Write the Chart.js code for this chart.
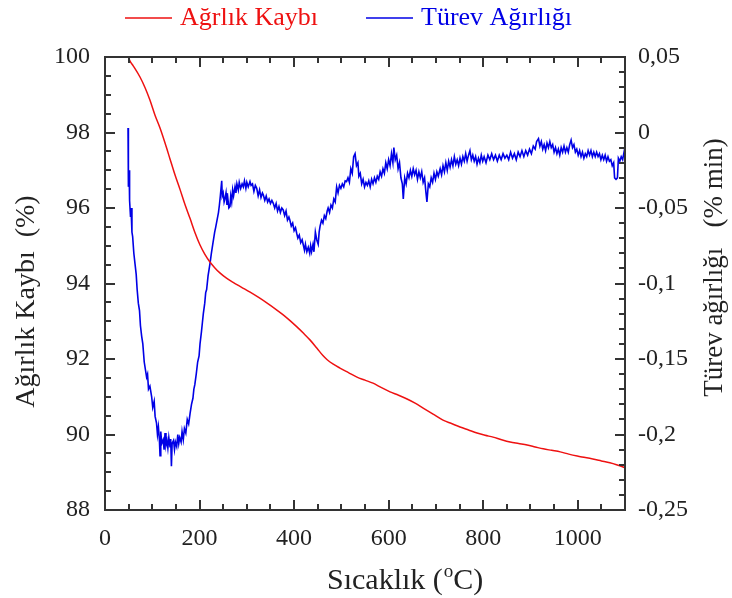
<!DOCTYPE html>
<html>
<head>
<meta charset="utf-8">
<script src="https://cdn.jsdelivr.net/npm/chart.js@4"></script>
<style>
  body { margin: 0; background: #fff; }
  #wrap { width: 732px; height: 598px; }
</style>
</head>
<body>
<div id="wrap"><canvas id="tgaChart" width="732" height="598"></canvas></div>
<script>
// Etiketler
const seriAdlari = ['Ağrlık Kaybı', 'Türev Ağırlığı'];
const xBaslik = ['Sıcaklık (', 'o', 'C)'];
const yBaslik = 'Ağırlık Kaybı  (%)';
const y1Baslik = 'Türev ağırlığı   (% min)';

// Eksen aralıkları / tick etiketleri
const xAralik = [0, 1100];
const xTickler = [0, 200, 400, 600, 800, 1000];
const yAralik = [88, 100];
const y1Aralik = [-0.25, 0.05];

// Ağırlık kaybı (%), [sıcaklık, değer]
const kayipNoktalari = [
  [50, 99.98], [53, 99.89], [60, 99.76], [74, 99.47], [85, 99.18], [95, 98.86],
  [106, 98.45], [116, 98.13], [127, 97.72], [137.5, 97.3], [148, 96.88], [159, 96.48],
  [169, 96.1], [180, 95.72], [190, 95.36], [201, 95.02], [211, 94.78], [222, 94.57],
  [232, 94.42], [243, 94.28], [257, 94.14], [271, 94.03], [289, 93.9], [307, 93.77],
  [325, 93.63], [343, 93.48], [360, 93.33], [377, 93.17], [392, 93.01], [406, 92.85],
  [420, 92.68], [434, 92.5], [448, 92.29], [461, 92.09], [470, 91.98], [482, 91.87],
  [497, 91.76], [515, 91.64], [533, 91.52], [550, 91.44], [567, 91.36], [585, 91.24],
  [603, 91.13], [621, 91.04], [639, 90.94], [656, 90.83], [673, 90.7], [694, 90.54],
  [715, 90.38], [733, 90.29], [751, 90.2], [769, 90.12], [787, 90.04], [804, 89.98],
  [821, 89.93], [839, 89.86], [857, 89.8], [875, 89.76], [893, 89.72], [910, 89.67],
  [927, 89.62], [945, 89.58], [963, 89.54], [981, 89.48], [999, 89.43], [1016, 89.39],
  [1032, 89.35], [1050, 89.3], [1068, 89.25], [1082, 89.2], [1096, 89.14], [1100, 89.12]
];

// Türev ağırlığı, [sıcaklık, değer]
const turevNoktalari = [
  [48.7, 0.003], [49, -0.036], [49.5, -0.028], [50, -0.036], [51, -0.025], [52, -0.045],
  [54, -0.056], [55, -0.05], [57, -0.066], [58.5, -0.069], [61, -0.08], [63.5, -0.087],
  [66, -0.094], [68, -0.104], [70.5, -0.113], [73, -0.118], [75, -0.128], [77.6, -0.135],
  [80, -0.14], [83, -0.152], [86, -0.158], [88, -0.162], [90, -0.16], [92, -0.17],
  [95, -0.168], [98.7, -0.175], [101, -0.182], [104, -0.178], [106, -0.188], [109, -0.1925],
  [111, -0.2], [113, -0.195], [115, -0.203], [116.4, -0.214], [118, -0.198], [120, -0.206],
  [123, -0.2035], [125, -0.21], [127, -0.199], [129, -0.207], [131, -0.204], [133, -0.209],
  [135, -0.202], [137.5, -0.208], [139, -0.203], [140.5, -0.221], [142, -0.206], [145, -0.204],
  [147, -0.21], [149, -0.205], [151.7, -0.208], [154, -0.2], [156, -0.206], [158, -0.202],
  [161, -0.205], [163, -0.198], [165.6, -0.2035], [168, -0.196], [171, -0.199], [174, -0.19],
  [177, -0.193], [180, -0.186], [183, -0.18], [186, -0.176], [188, -0.17], [190, -0.167],
  [193, -0.16], [196, -0.152], [199, -0.148], [201, -0.14], [204, -0.132], [206, -0.126],
  [208, -0.12], [211, -0.113], [213, -0.106], [215, -0.104], [218, -0.095], [222, -0.087],
  [225, -0.08], [228, -0.074], [230, -0.07], [232, -0.066], [234, -0.063], [237, -0.058],
  [240, -0.053], [242, -0.048], [244, -0.042], [246.9, -0.032], [248, -0.042], [250, -0.04],
  [252, -0.046], [254, -0.0435], [256, -0.04], [258, -0.048], [260, -0.044], [262, -0.05],
  [264.4, -0.049], [266, -0.042], [268, -0.046], [270, -0.038], [272, -0.042], [275, -0.036],
  [277, -0.04], [279, -0.034], [282, -0.038], [284, -0.033], [287, -0.037], [290, -0.034],
  [292.6, -0.036], [295, -0.032], [298, -0.037], [300, -0.033], [303, -0.036], [306.7, -0.0325],
  [309, -0.035], [312, -0.034], [315, -0.039], [318, -0.035], [321, -0.037], [324, -0.042],
  [327, -0.038], [330, -0.043], [333, -0.04], [335, -0.0414], [338, -0.045], [341, -0.042],
  [344, -0.046], [347, -0.044], [350, -0.047], [353, -0.045], [356, -0.0469], [359, -0.05],
  [362, -0.047], [365, -0.052], [368, -0.049], [371, -0.053], [374, -0.05], [377, -0.0513],
  [380, -0.055], [383, -0.052], [386, -0.058], [389, -0.056], [391, -0.058], [394, -0.062],
  [397, -0.06], [400, -0.065], [403, -0.063], [405.5, -0.0667], [408, -0.07], [411, -0.068],
  [414, -0.073], [417, -0.071], [419.5, -0.0745], [422, -0.078], [424, -0.074], [427, -0.079],
  [430, -0.076], [433, -0.08], [435, -0.075], [437, -0.0789], [440, -0.074], [442, -0.079],
  [445, -0.066], [448, -0.0712], [451, -0.074], [453, -0.066], [455, -0.062], [458, -0.058],
  [461, -0.06], [464, -0.055], [467, -0.057], [470, -0.052], [472, -0.05], [475, -0.053],
  [478, -0.048], [481, -0.05], [484, -0.044], [487, -0.046], [490, -0.036], [493, -0.04],
  [496, -0.035], [499, -0.037], [502, -0.034], [505, -0.036], [508, -0.032], [511, -0.0325],
  [514, -0.03], [517, -0.033], [520, -0.024], [523, -0.027], [526, -0.016], [529, -0.014],
  [532, -0.022], [535, -0.02], [537, -0.029], [540, -0.027], [543, -0.034], [546, -0.031],
  [549, -0.036], [552, -0.033], [555, -0.035], [558, -0.032], [561, -0.036], [564, -0.031],
  [567, -0.034], [570, -0.03], [573, -0.033], [576, -0.029], [579, -0.031], [582, -0.026],
  [585, -0.029], [588, -0.024], [591, -0.027], [594, -0.02], [597, -0.024], [600, -0.018],
  [603, -0.022], [606, -0.014], [609, -0.02], [611, -0.01], [614, -0.018], [617, -0.015],
  [620, -0.024], [623, -0.02], [626, -0.03], [629, -0.034], [631, -0.044], [634, -0.03],
  [637, -0.034], [640, -0.027], [643, -0.03], [646, -0.025], [649, -0.029], [652, -0.024],
  [655, -0.028], [658, -0.025], [661, -0.031], [664, -0.026], [667, -0.03], [670, -0.026],
  [673, -0.033], [676, -0.03], [679, -0.04], [681, -0.046], [684, -0.034], [687, -0.036],
  [690, -0.03], [693, -0.033], [696, -0.027], [699, -0.031], [702, -0.026], [705, -0.029],
  [709, -0.024], [712, -0.028], [715, -0.022], [718, -0.026], [721, -0.02], [724, -0.025],
  [727, -0.019], [730, -0.023], [733, -0.018], [736, -0.022], [739, -0.016], [742, -0.021],
  [745, -0.018], [748, -0.022], [751, -0.017], [754, -0.021], [757, -0.016], [760, -0.019],
  [763, -0.014], [766, -0.019], [769, -0.015], [772, -0.012], [775, -0.018], [778, -0.015],
  [781, -0.019], [784, -0.016], [787, -0.021], [790, -0.017], [793, -0.02], [796, -0.015],
  [799, -0.019], [802, -0.016], [806, -0.02], [810, -0.015], [814, -0.018], [818, -0.014],
  [822, -0.018], [826, -0.015], [830, -0.019], [834, -0.015], [838, -0.018], [842, -0.014],
  [846, -0.017], [850, -0.015], [854, -0.018], [858, -0.013], [862, -0.017], [866, -0.014],
  [870, -0.018], [874, -0.013], [878, -0.016], [882, -0.012], [886, -0.016], [890, -0.012],
  [894, -0.015], [898, -0.011], [902, -0.014], [906, -0.009], [910, -0.011], [913, -0.006],
  [917, -0.004], [920, -0.009], [923, -0.006], [926, -0.011], [929, -0.008], [932, -0.012],
  [935, -0.007], [938, -0.01], [941, -0.006], [944, -0.01], [947, -0.008], [950, -0.013],
  [953, -0.01], [956, -0.014], [959, -0.011], [962, -0.015], [965, -0.01], [968, -0.013],
  [971, -0.009], [974, -0.013], [977, -0.01], [980, -0.013], [983, -0.008], [986, -0.005],
  [989, -0.01], [992, -0.008], [995, -0.013], [998, -0.011], [1001, -0.015], [1004, -0.012],
  [1007, -0.016], [1010, -0.013], [1013, -0.017], [1016, -0.014], [1019, -0.016], [1022, -0.012],
  [1025, -0.015], [1028, -0.012], [1031, -0.016], [1034, -0.013], [1037, -0.016], [1040, -0.013],
  [1043, -0.016], [1046, -0.014], [1049, -0.018], [1052, -0.015], [1055, -0.018], [1058, -0.015],
  [1061, -0.019], [1064, -0.016], [1067, -0.019], [1070, -0.018], [1073, -0.022], [1076, -0.02],
  [1078, -0.03], [1081, -0.031], [1084, -0.03], [1086, -0.017], [1089, -0.019], [1092, -0.016],
  [1095, -0.018], [1098, -0.013], [1100, -0.015]
];

const kirmizi = '#ee1111';
const mavi = '#0000e6';
const yaziRengi = '#222';
const serif = '"Liberation Serif", "Times New Roman", serif';

// Çerçeve, içe dönük tickler, eksen başlıkları ve üst lejant
const cerceve = {
  id: 'cerceve',
  afterDraw(chart) {
    const ctx = chart.ctx, a = chart.chartArea;
    const sx = chart.scales.x, sy = chart.scales.y, sy1 = chart.scales.y1;
    ctx.save();
    ctx.strokeStyle = '#333';
    ctx.lineWidth = 2;
    ctx.strokeRect(a.left, a.top, a.right - a.left, a.bottom - a.top);

    ctx.beginPath();
    for (let v = xAralik[0]; v <= xAralik[1]; v += 50) {
      const px = Math.round(sx.getPixelForValue(v));
      const len = v % 200 === 0 ? 10 : 6;
      ctx.moveTo(px, a.bottom); ctx.lineTo(px, a.bottom - len);
      ctx.moveTo(px, a.top); ctx.lineTo(px, a.top + len);
    }
    for (let v = yAralik[0]; v <= yAralik[1]; v += 0.5) {
      const py = Math.round(sy.getPixelForValue(v));
      const len = v % 2 === 0 ? 10 : 6;
      ctx.moveTo(a.left, py); ctx.lineTo(a.left + len, py);
    }
    for (let k = -25; k <= 5; k++) {
      const py = Math.round(sy1.getPixelForValue(k / 100));
      const len = k % 5 === 0 ? 10 : 6;
      ctx.moveTo(a.right, py); ctx.lineTo(a.right - len, py);
    }
    ctx.stroke();

    // x başlığı (üst simge o ile)
    ctx.fillStyle = yaziRengi;
    ctx.textAlign = 'left';
    ctx.textBaseline = 'alphabetic';
    let tx = 327;
    ctx.font = '30px ' + serif;
    ctx.fillText(xBaslik[0], tx, 589);
    tx += ctx.measureText(xBaslik[0]).width;
    ctx.font = '19px ' + serif;
    ctx.fillText(xBaslik[1], tx + 1, 577);
    tx += ctx.measureText(xBaslik[1]).width + 1;
    ctx.font = '30px ' + serif;
    ctx.fillText(xBaslik[2], tx, 589);

    // y başlıkları
    ctx.textAlign = 'center';
    ctx.textBaseline = 'middle';
    ctx.font = '28px ' + serif;
    ctx.save();
    ctx.translate(27, (a.top + a.bottom) / 2 + 18);
    ctx.rotate(-Math.PI / 2);
    ctx.fillText(yBaslik, 0, 0);
    ctx.restore();
    ctx.font = '27px ' + serif;
    ctx.save();
    ctx.translate(715, (a.top + a.bottom) / 2 - 16);
    ctx.rotate(-Math.PI / 2);
    ctx.fillText(y1Baslik, 0, 0);
    ctx.restore();

    // lejant
    ctx.font = '26px ' + serif;
    ctx.textAlign = 'left';
    const lejantX = [125, 366];
    chart.data.datasets.forEach((ds, i) => {
      const x0 = lejantX[i];
      ctx.strokeStyle = ds.borderColor;
      ctx.lineWidth = 1.6;
      ctx.beginPath();
      ctx.moveTo(x0, 18); ctx.lineTo(x0 + 47, 18);
      ctx.stroke();
      ctx.fillStyle = ds.borderColor;
      ctx.fillText(ds.label, x0 + 55, 18);
    });
    ctx.restore();
  }
};

const tickFont = { family: serif, size: 24 };

new Chart(document.getElementById('tgaChart'), {
  type: 'line',
  data: {
    datasets: [{
      label: seriAdlari[0],
      data: kayipNoktalari.map(p => ({ x: p[0], y: p[1] })),
      borderColor: kirmizi,
      borderWidth: 1.5,
      pointRadius: 0,
      cubicInterpolationMode: 'monotone',
      yAxisID: 'y'
    }, {
      label: seriAdlari[1],
      data: turevNoktalari.map(p => ({ x: p[0], y: p[1] })),
      borderColor: mavi,
      borderWidth: 1.6,
      pointRadius: 0,
      tension: 0,
      yAxisID: 'y1'
    }]
  },
  options: {
    responsive: false,
    animation: false,
    layout: { padding: { top: 57, left: 0, right: 0, bottom: 0 } },
    plugins: {
      legend: { display: false },
      tooltip: { enabled: false }
    },
    scales: {
      x: {
        type: 'linear',
        min: xAralik[0],
        max: xAralik[1],
        grid: { display: false, drawTicks: false },
        border: { display: false },
        afterBuildTicks: s => { s.ticks = xTickler.map(v => ({ value: v })); },
        afterFit: s => { s.height = 88; },
        ticks: {
          padding: 14, color: yaziRengi, font: tickFont, maxRotation: 0, autoSkip: false,
          callback: v => String(v)
        }
      },
      y: {
        position: 'left',
        min: yAralik[0],
        max: yAralik[1],
        grid: { display: false, drawTicks: false },
        border: { display: false },
        afterFit: s => { s.width = 105; },
        ticks: { stepSize: 2, padding: 15, color: yaziRengi, font: tickFont }
      },
      y1: {
        position: 'right',
        min: y1Aralik[0],
        max: y1Aralik[1],
        grid: { display: false, drawTicks: false },
        border: { display: false },
        afterFit: s => { s.width = 107; },
        ticks: {
          stepSize: 0.05,
          padding: 13,
          color: yaziRengi,
          font: tickFont,
          callback: v => String(Math.round(v * 100) / 100).replace('.', ',')
        }
      }
    }
  },
  plugins: [cerceve]
});
</script>
</body>
</html>
